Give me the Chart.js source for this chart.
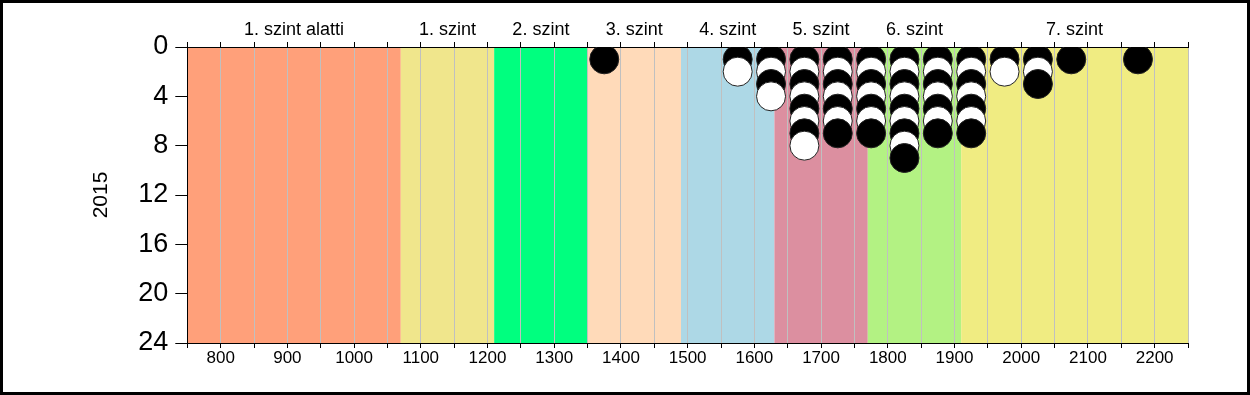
<!DOCTYPE html>
<html>
<head>
<meta charset="utf-8">
<script src="https://cdn.jsdelivr.net/npm/chart.js@4/dist/chart.umd.min.js"></script>
<style>
  body { margin: 0; background: #fff; }
  #wrap { width: 1250px; height: 395px; border: 3px solid #000; box-sizing: border-box; position: relative; }
</style>
</head>
<body>
<div id="wrap"><canvas id="chart"></canvas></div>
<script>
// score columns and how many dots sit in each
const scores = [1375, 1575, 1625, 1675, 1725, 1775, 1825, 1875, 1925, 1975, 2025, 2075, 2175];
const counts = [1, 2, 4, 8, 7, 7, 9, 7, 7, 2, 3, 1, 1];

// level bands
const bandEdges = [750, 1070, 1210, 1350, 1490, 1630, 1770, 1910, 2250];
const bandNames = ['1. szint alatti', '1. szint', '2. szint', '3. szint', '4. szint', '5. szint', '6. szint', '7. szint'];

const yTitle = '2015';

const bandColors = ['#FFA07A', '#F0E68C', '#00FF7F', '#FFDAB9', '#ADD8E6', '#DC8FA0', '#B3F283', '#F0EC82'];
const FONT = 'Liberation Sans, Arial, sans-serif';

const points = [];
const fills = [];
scores.forEach((s, i) => {
    for (let k = 1; k <= counts[i]; k++) {
        points.push({ x: s, y: k });
        fills.push(k % 2 === 1 ? '#000' : '#fff');
    }
});

const bands = {
    id: 'bands',
    beforeDraw(chart) {
        const { ctx, chartArea, scales } = chart;
        ctx.save();
        for (let i = 0; i < bandNames.length; i++) {
            const x0 = scales.x.getPixelForValue(bandEdges[i]);
            const x1 = scales.x.getPixelForValue(bandEdges[i + 1]);
            ctx.fillStyle = bandColors[i];
            ctx.fillRect(x0, chartArea.top, x1 - x0, chartArea.bottom - chartArea.top);
        }
        ctx.restore();
    },
    afterDraw(chart) {
        const { ctx, chartArea, scales } = chart;
        ctx.save();
        ctx.font = '18px ' + FONT;
        ctx.fillStyle = '#000';
        ctx.textAlign = 'center';
        ctx.textBaseline = 'middle';
        for (let i = 0; i < bandNames.length; i++) {
            const c = (bandEdges[i] + bandEdges[i + 1]) / 2;
            ctx.fillText(bandNames[i], scales.x.getPixelForValue(c), chartArea.top - 16.5);
        }
        ctx.restore();
    }
};

Chart.defaults.color = '#000';

new Chart(document.getElementById('chart'), {
    type: 'scatter',
    data: {
        datasets: [{
            data: points,
            pointRadius: 14.5,
            pointHoverRadius: 14.5,
            pointBackgroundColor: fills,
            pointBorderColor: '#222',
            pointBorderWidth: 1
        }]
    },
    options: {
        responsive: true,
        maintainAspectRatio: false,
        animation: false,
        layout: { padding: { left: 0, right: 59, top: 0, bottom: 0 } },
        plugins: { legend: { display: false }, tooltip: { enabled: false } },
        scales: {
            x: {
                type: 'linear',
                position: 'bottom',
                min: 750,
                max: 2250,
                afterFit: (s) => { s.height = 49; },
                ticks: {
                    stepSize: 50,
                    autoSkip: false,
                    maxRotation: 0,
                    padding: 0,
                    font: { family: FONT, size: 17 },
                    callback: (v) => (v % 100 === 0 ? v : '')
                },
                grid: { color: '#C0C0C0', tickColor: '#000', tickLength: 5 },
                border: { color: '#000' }
            },
            xTop: {
                type: 'linear',
                position: 'top',
                min: 750,
                max: 2250,
                afterFit: (s) => { s.height = 44; },
                ticks: { stepSize: 50, autoSkip: false, display: false },
                grid: { drawOnChartArea: false, tickColor: '#000', tickLength: 5 },
                border: { color: '#000' }
            },
            y: {
                min: 0,
                max: 24,
                reverse: true,
                afterFit: (s) => { s.width = 184.3; },
                ticks: { stepSize: 4, padding: 7, font: { family: FONT, size: 27 } },
                grid: { drawOnChartArea: false, tickColor: '#000', tickLength: 12 },
                border: { color: '#000' },
                title: {
                    display: true,
                    text: yTitle,
                    font: { family: FONT, size: 21 },
                    padding: { top: 86, bottom: 0 }
                }
            }
        }
    },
    plugins: [bands]
});
</script>
</body>
</html>
